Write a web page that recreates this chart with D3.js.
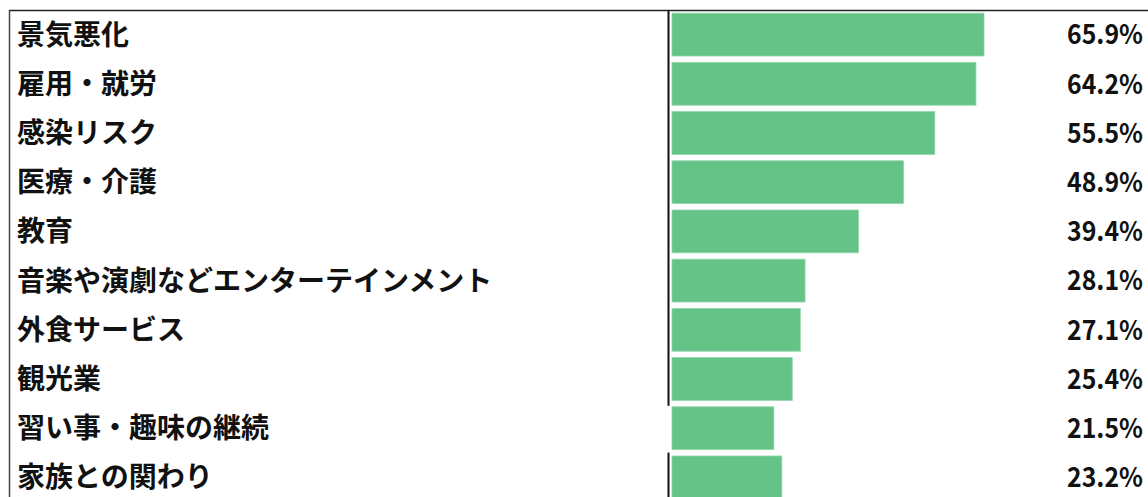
<!DOCTYPE html>
<html>
<head>
<meta charset="utf-8">
<script src="https://cdn.jsdelivr.net/npm/d3@7.9.0/dist/d3.min.js"></script>
<style>
  body { margin: 0; background: #fff; }
  svg { display: block; font-family: "Noto Sans CJK JP", "Noto Sans", sans-serif; }
</style>
</head>
<body>
<svg width="1148" height="497"></svg>
<script>
const categories = ['景気悪化', '雇用・就労', '感染リスク', '医療・介護', '教育',
  '音楽や演劇などエンターテインメント', '外食サービス', '観光業', '習い事・趣味の継続', '家族との関わり'];
const values = [65.9, 64.2, 55.5, 48.9, 39.4, 28.1, 27.1, 25.4, 21.5, 23.2];

const svg = d3.select('svg');
const width = 1148, height = 497;

const topY = 10, rowStep = 49.2;
const y = d3.scaleBand()
  .domain(categories)
  .range([topY, topY + rowStep * categories.length])
  .paddingInner(0.13)
  .paddingOuter(0.065);

const x = d3.scaleLinear().domain([0, 65.9]).range([672, 984]);

// borders
svg.append('line')
  .attr('x1', 9).attr('x2', width).attr('y1', topY + 0.5).attr('y2', topY + 0.5)
  .attr('stroke', '#222').attr('stroke-width', 1.5);
svg.append('line')
  .attr('x1', 9.5).attr('x2', 9.5).attr('y1', topY).attr('y2', height)
  .attr('stroke', '#444').attr('stroke-width', 1.5);

// divider between label column and bars (broken at one row like the source)
const gapRow = categories[8];
svg.append('line')
  .attr('x1', 668.5).attr('x2', 668.5).attr('y1', topY).attr('y2', y(gapRow) - 1)
  .attr('stroke', '#111').attr('stroke-width', 2);
svg.append('line')
  .attr('x1', 668.5).attr('x2', 668.5).attr('y1', y(gapRow) + y.bandwidth() + 3).attr('y2', height)
  .attr('stroke', '#111').attr('stroke-width', 2);

// bars
svg.selectAll('rect.bar')
  .data(categories)
  .join('rect')
  .attr('class', 'bar')
  .attr('x', x(0))
  .attr('y', d => y(d))
  .attr('width', (d, i) => x(values[i]) - x(0))
  .attr('height', y.bandwidth())
  .attr('fill', '#65c388')
  .attr('stroke', '#8fd6a8')
  .attr('stroke-width', 0.8);

// category labels
svg.selectAll('text.cat')
  .data(categories)
  .join('text')
  .attr('class', 'cat')
  .attr('x', 17)
  .attr('y', d => y(d) + y.bandwidth() / 2)
  .attr('dy', '0.36em')
  .attr('font-size', 28)
  .attr('font-weight', 'bold')
  .attr('fill', '#111')
  .text(d => d);

// value labels (squeezed horizontally, like the narrower source font)
svg.selectAll('text.val')
  .data(values)
  .join('text')
  .attr('class', 'val')
  .attr('transform', (d, i) => `translate(1143,${y(categories[i]) + y.bandwidth() / 2}) scale(0.92,1)`)
  .attr('dy', '0.36em')
  .attr('text-anchor', 'end')
  .attr('font-size', 27)
  .attr('font-weight', 'bold')
  .attr('fill', '#111')
  .text(d => d.toFixed(1) + '%');
</script>
</body>
</html>
